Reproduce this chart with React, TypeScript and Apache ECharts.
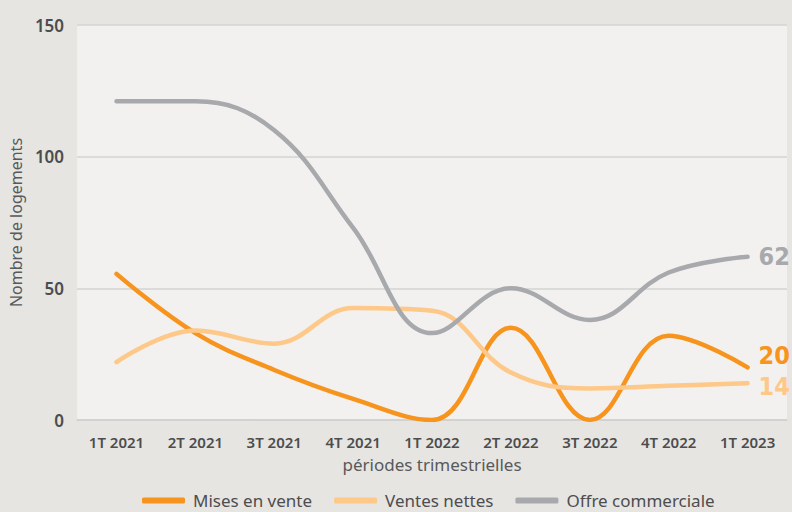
import React, { useEffect, useRef } from "react";
import * as echarts from "echarts";

const categories = ["1T 2021", "2T 2021", "3T 2021", "4T 2021", "1T 2022", "2T 2022", "3T 2022", "4T 2022", "1T 2023"];
const misesEnVente = [55.5, 33, 19, 8, 0, 35, 0, 32, 20];
const ventesNettes = [22, 34, 29, 42.5, 41.5, 18, 12, 13, 14];
const offreCommerciale = [121, 121, 110, 73, 33, 50, 38, 56, 62];

const FONT = "'Noto Sans', 'Open Sans', sans-serif";
const COND = "'DejaVu Sans Condensed', 'Noto Sans', sans-serif";

export default function App() {
  const ref = useRef<HTMLDivElement>(null);
  useEffect(() => {
    if (!ref.current) return;
    const chart = echarts.init(ref.current, null, { renderer: "svg" });
    const mk = (name: string, data: number[], color: string, offset: number[]) => ({
      name,
      type: "line",
      data,
      smooth: 0.4,
      symbol: "none",
      lineStyle: { color, width: 4.5, cap: "round" },
      itemStyle: { color },
      endLabel: {
        show: true,
        formatter: "{c}",
        color,
        fontSize: 25,
        fontWeight: "bold",
        fontFamily: COND,
        distance: 11,
        offset,
      },
    });
    chart.setOption({
      animation: false,
      backgroundColor: "#e6e5e1",
      textStyle: { fontFamily: FONT },
      grid: {
        left: 75,
        right: 5,
        top: 25,
        bottom: 92,
        show: true,
        backgroundColor: "#f2f1ef",
        borderWidth: 0,
      },
      legend: {
        top: 487,
        left: 137,
        icon: "roundRect",
        itemWidth: 43,
        itemHeight: 6,
        itemGap: 22,
        textStyle: { fontSize: 17, color: "#4d4d4f", fontFamily: FONT, padding: [0, 0, 0, 3] },
        data: ["Mises en vente", "Ventes nettes", "Offre commerciale"],
      },
      xAxis: {
        type: "category",
        data: categories,
        boundaryGap: true,
        name: "périodes trimestrielles",
        nameLocation: "middle",
        nameGap: 36,
        nameTextStyle: { fontSize: 17, color: "#58595b", fontFamily: FONT },
        axisLine: { lineStyle: { color: "#cfcfcf", width: 1.5 } },
        axisTick: { show: false },
        axisLabel: { fontSize: 15, fontWeight: 600, color: "#4d4d4f", margin: 14, fontFamily: FONT },
      },
      yAxis: {
        type: "value",
        min: 0,
        max: 150,
        interval: 50,
        name: "Nombre de logements",
        nameLocation: "middle",
        nameRotate: 90,
        nameGap: 50,
        nameTextStyle: { fontSize: 16, color: "#58595b", fontFamily: FONT },
        axisLine: { show: false },
        axisTick: { show: false },
        axisLabel: { fontSize: 17, fontWeight: 600, color: "#4d4d4f", margin: 13, fontFamily: FONT },
        splitLine: { lineStyle: { color: "#d3d3d3", width: 1.5 } },
      },
      series: [
        mk("Mises en vente", misesEnVente, "#f7941d", [0, -12]),
        mk("Ventes nettes", ventesNettes, "#fdc888", [0, 3]),
        mk("Offre commerciale", offreCommerciale, "#a7a9ac", [0, 0]),
      ],
    });
    return () => chart.dispose();
  }, []);
  return <div ref={ref} style={{ width: 792, height: 512, position: "fixed", left: 0, top: 0 }} />;
}
